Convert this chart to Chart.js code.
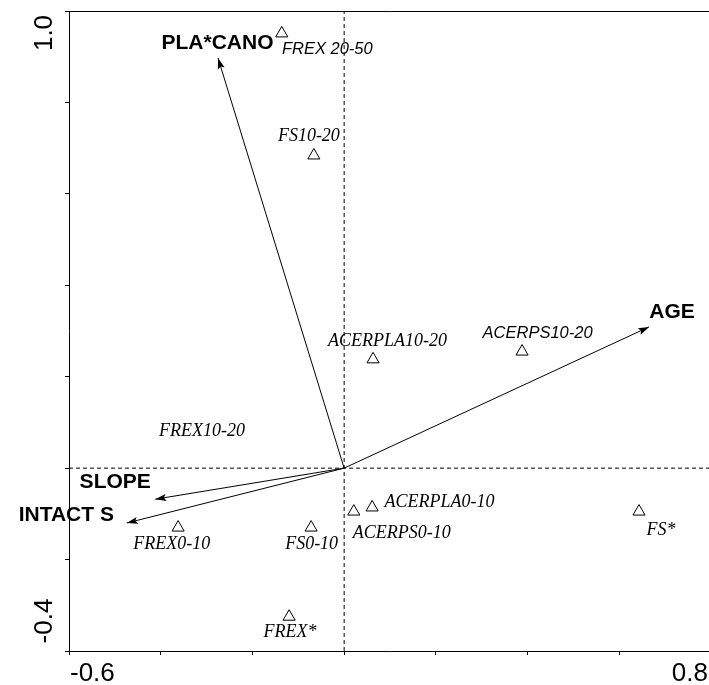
<!DOCTYPE html>
<html lang="en">
<head>
    <meta charset="UTF-8">
    <title>Ordination biplot</title>
    <script src="https://cdn.jsdelivr.net/npm/chart.js"></script>
    <style>
        html, body {
            margin: 0;
            padding: 0;
            overflow: hidden;
            background: #fff;
        }
        #wrap {
            width: 712px;
            height: 685px;
        }
    </style>
</head>
<body>
    <div id="wrap"><canvas id="biplot" width="712" height="685"></canvas></div>

    <script>
        // axis ranges and the tick labels shown at the ends
        const xRange = [-0.6, 0.8];
        const yRange = [-0.4, 1.0];
        const xTickLabels = ['-0.6', '0.8'];
        const yTickLabels = ['-0.4', '1.0'];

        // samples (triangles)
        const siteNames = ['FREX 20-50', 'FS10-20', 'ACERPLA10-20', 'ACERPS10-20', 'FREX10-20',
                           'FREX0-10', 'FS0-10', 'ACERPS0-10', 'ACERPLA0-10', 'FS*', 'FREX*'];
        const siteX = [-0.136, -0.066, 0.063, 0.388, -0.310, -0.362, -0.072, 0.021, 0.061, 0.643, -0.120];
        const siteY = [0.951, 0.684, 0.238, 0.255, 0.081, -0.130, -0.130, -0.095, -0.086, -0.095, -0.325];
        const siteMarked = [true, true, true, true, false, true, true, true, true, true, true];

        // environmental variables (arrows from the origin)
        const envNames = ['PLA*CANO', 'AGE', 'SLOPE', 'INTACT S'];
        const envX = [-0.275, 0.665, -0.412, -0.474];
        const envY = [0.897, 0.309, -0.068, -0.120];

        // label placement, pixels from the mark
        const siteLabelDx = [45.5, -5, 14.5, 15.5, 0, -6.5, 0.5, 48, 67.5, 22, 1];
        const siteLabelDy = [16, -19, -18, -18, 0, 17, 17, 22, -5, 19, 16];
        const siteLabelSans = [true, false, false, true, false, false, false, false, false, false, false];
        const envLabelDx = [-0.5, 23, -40, -60.5];
        const envLabelDy = [-15, -15, -17, -8];

        const serifItalic = 'italic 18px "Liberation Serif", "Times New Roman", serif';
        const sansItalic = 'italic 16.5px "Liberation Sans", Arial, sans-serif';
        const boldSans = 'bold 21px "Liberation Sans", Arial, sans-serif';
        const tickFont = '26px "Liberation Sans", Arial, sans-serif';

        const datasets = [];

        // dashed zero lines across the whole plot
        datasets.push({
            data: [{x: xRange[0], y: 0}, {x: xRange[1], y: 0}],
            showLine: true, borderColor: '#000', borderWidth: 1,
            borderDash: [4, 3], pointRadius: 0
        });
        datasets.push({
            data: [{x: 0, y: yRange[0]}, {x: 0, y: yRange[1]}],
            showLine: true, borderColor: '#000', borderWidth: 1,
            borderDash: [4, 3], pointRadius: 0
        });

        envNames.forEach((name, i) => {
            datasets.push({
                label: name,
                data: [{x: 0, y: 0}, {x: envX[i], y: envY[i]}],
                showLine: true, borderColor: '#000', borderWidth: 1, pointRadius: 0
            });
        });

        datasets.push({
            label: 'sites',
            data: siteX.map((v, i) => ({x: v, y: siteY[i]})),
            pointStyle: 'triangle',
            pointRadius: ctx => siteMarked[ctx.dataIndex] ? 7 : 0,
            borderColor: '#000',
            backgroundColor: 'rgba(0,0,0,0)',
            borderWidth: 1
        });
        const siteIndex = datasets.length - 1;

        const labelPlugin = {
            id: 'labelPlugin',
            afterDatasetsDraw(chart) {
                const {ctx, scales: {x, y}} = chart;
                ctx.save();
                ctx.fillStyle = '#000';
                ctx.textAlign = 'center';
                ctx.textBaseline = 'middle';

                const x0 = x.getPixelForValue(0);
                const y0 = y.getPixelForValue(0);
                envNames.forEach((name, i) => {
                    const x1 = x.getPixelForValue(envX[i]);
                    const y1 = y.getPixelForValue(envY[i]);
                    const a = Math.atan2(y1 - y0, x1 - x0);
                    const len = 11, half = 3.5;
                    ctx.beginPath();
                    ctx.moveTo(x1, y1);
                    ctx.lineTo(x1 - len * Math.cos(a) + half * Math.sin(a), y1 - len * Math.sin(a) - half * Math.cos(a));
                    ctx.lineTo(x1 - len * 0.8 * Math.cos(a), y1 - len * 0.8 * Math.sin(a));
                    ctx.lineTo(x1 - len * Math.cos(a) - half * Math.sin(a), y1 - len * Math.sin(a) + half * Math.cos(a));
                    ctx.closePath();
                    ctx.fill();

                    ctx.font = boldSans;
                    ctx.fillText(name, x1 + envLabelDx[i], y1 + envLabelDy[i]);
                });

                const meta = chart.getDatasetMeta(siteIndex);
                siteNames.forEach((name, i) => {
                    const pt = meta.data[i];
                    ctx.font = siteLabelSans[i] ? sansItalic : serifItalic;
                    ctx.fillText(name, pt.x + siteLabelDx[i], pt.y + siteLabelDy[i]);
                });

                // end tick labels
                ctx.font = tickFont;
                ctx.textAlign = 'left';
                ctx.fillText(xTickLabels[0], x.getPixelForValue(xRange[0]) + 1, 674);
                ctx.textAlign = 'right';
                ctx.fillText(xTickLabels[1], 708, 674);

                ctx.textAlign = 'center';
                const yl = [y.getPixelForValue(yRange[0]) - 30, y.getPixelForValue(yRange[1]) + 22];
                yTickLabels.forEach((t, i) => {
                    ctx.save();
                    ctx.translate(45, yl[i]);
                    ctx.rotate(-Math.PI / 2);
                    ctx.fillText(t, 0, 0);
                    ctx.restore();
                });
                ctx.restore();
            }
        };

        new Chart(document.getElementById('biplot').getContext('2d'), {
            type: 'scatter',
            data: {datasets: datasets},
            options: {
                responsive: false,
                animation: false,
                layout: {autoPadding: false, padding: {left: 0, right: 1, top: 0, bottom: 0}},
                plugins: {legend: {display: false}, tooltip: {enabled: false}},
                scales: {
                    x: {
                        type: 'linear', position: 'bottom',
                        min: xRange[0], max: xRange[1],
                        ticks: {display: false, stepSize: 0.2},
                        grid: {drawOnChartArea: false, color: 'rgba(0,0,0,0)', tickColor: '#000', tickLength: 4},
                        border: {display: true, color: '#000', width: 1},
                        afterFit(scale) { scale.height = 34; }
                    },
                    x2: {
                        type: 'linear', position: 'top', axis: 'x',
                        min: xRange[0], max: xRange[1],
                        ticks: {display: false},
                        grid: {display: false},
                        border: {display: true, color: '#000', width: 1},
                        afterFit(scale) { scale.height = 11; }
                    },
                    y: {
                        type: 'linear', position: 'left',
                        min: yRange[0], max: yRange[1],
                        ticks: {display: false, stepSize: 0.2},
                        grid: {drawOnChartArea: false, color: 'rgba(0,0,0,0)', tickColor: '#000', tickLength: 4},
                        border: {display: true, color: '#000', width: 1},
                        afterFit(scale) { scale.width = 69; }
                    }
                }
            },
            plugins: [labelPlugin]
        });
    </script>
</body>
</html>
